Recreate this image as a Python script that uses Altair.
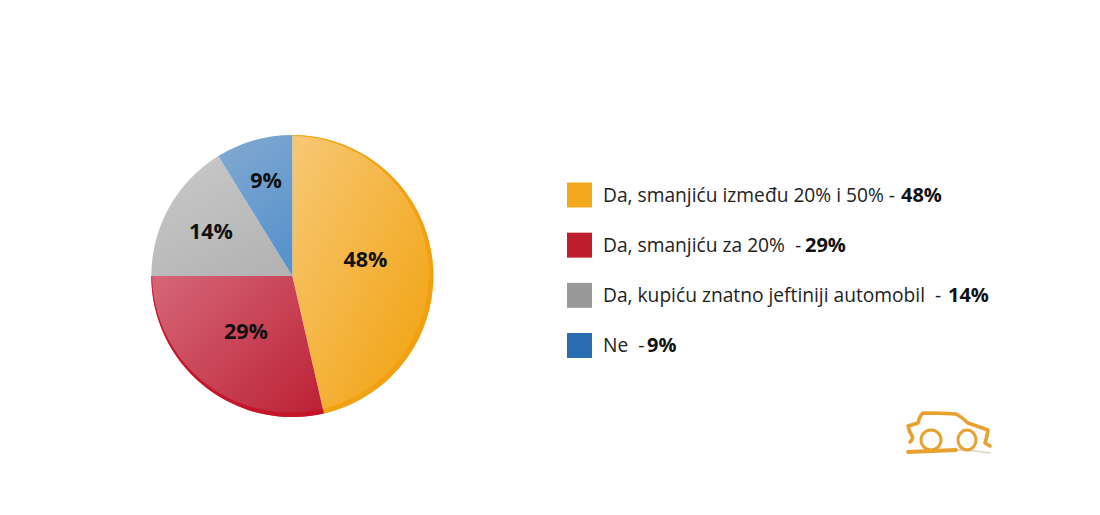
import math
import altair as alt
import pandas as pd

# Data
categories = ["Da, smanjiću između 20% i 50%", "Da, smanjiću za 20%", "Da, kupiću znatno jeftiniji automobil", "Ne"]
legend_text = ["Da, smanjiću između 20% i 50% -", "Da, smanjiću za 20%\u00a0 -", "Da, kupiću znatno jeftiniji automobil\u00a0 -", "Ne\u00a0 -"]
percent_labels = ["48%", "29%", "14%", "9%"]
drawn_shares = [46.4, 28.6, 16.2, 8.8]   # slice sizes as drawn in the picture

# Styles / layout (separate from the data)
M = 8
CX, CY, R = 292.3 - M, 276 - M, 141
legend_colors = ["#F4A81D", "#BE1E2D", "#999999", "#2A6EB1"]
grad = [("#F7C670", "#F2A516"), ("#D46475", "#BD2337"), ("#C8C8C8", "#B3B3B3"), ("#7FA7D1", "#5692CC")]
grad_dir = [(0, 0.1, 0.85, 0.9), (0, 0.1, 1, 0.9), (0.2, 0, 0.8, 1), (0.3, 0, 0.7, 1)]
rim_colors = ["#F0A010", "#C4142A"]
label_xy = [(365.5, 261), (246, 333), (211, 233), (266, 182)]
bold_x = [901, 805, 948, 647]
FONT = "Open Sans"

cum = [0]
for v in drawn_shares:
    cum.append(cum[-1] + v)
df = pd.DataFrame({"cat": categories, "start": cum[:-1], "end": cum[1:],
                   "txt": legend_text, "pct": percent_labels})

theta_scale = alt.Scale(domain=[0, 100], range=[0, 6.283185307])
y_scale = alt.Scale(domain=categories, range=[195 - M, 345.5 - M], padding=0)
yenc = alt.Y("cat:N", scale=y_scale, axis=None)

layers = []
# shaded faces
for i, c in enumerate(categories):
    x1, y1, x2, y2 = grad_dir[i]
    g = alt.LinearGradient(gradient="linear", x1=x1, y1=y1, x2=x2, y2=y2,
                           stops=[alt.GradientStop(color=grad[i][0], offset=0),
                                  alt.GradientStop(color=grad[i][1], offset=1)])
    layers.append(alt.Chart(df[df.cat == c]).mark_arc(color=g, outerRadius=R, innerRadius=0).encode(
        theta=alt.Theta("start:Q", scale=theta_scale), theta2="end:Q",
        x=alt.value(CX), y=alt.value(CY)))


# bevel crescent on the lower-right edge of the two big slices
def crescent(a0, a1):
    steps = 40
    angles = [math.radians(a0 + (a1 - a0) * k / steps) for k in range(steps + 1)]
    outer = [(R * math.sin(a), -R * math.cos(a)) for a in angles]
    inner = []
    for a in reversed(angles):
        t = 2.6 * (1 + math.cos(a - math.radians(135)))
        inner.append(((R - t) * math.sin(a), -(R - t) * math.cos(a)))
    pts = outer + inner
    return "M" + " L".join(f"{x:.2f} {y:.2f}" for x, y in pts) + " Z"


logo_df = pd.DataFrame({"k": ["logo"]})
for i in range(2):
    a0, a1 = cum[i] * 3.6, cum[i + 1] * 3.6
    layers.append(alt.Chart(logo_df).mark_point(shape=crescent(a0, a1), size=4, filled=True, fill=rim_colors[i],
                                                stroke=None, opacity=0.95).encode(
        x=alt.value(CX), y=alt.value(CY)))

# percent labels on the pie
for i, c in enumerate(categories):
    layers.append(alt.Chart(df[df.cat == c]).mark_text(font=FONT, fontWeight="bold", fontSize=21.5, color="#111111",
                                                       align="center", baseline="middle").encode(
        text="pct:N", x=alt.value(label_xy[i][0] - M), y=alt.value(label_xy[i][1] - M)))
# legend
layers.append(alt.Chart(df).mark_square(size=625, opacity=1).encode(
    x=alt.value(579.5 - M), y=yenc,
    color=alt.Color("cat:N", scale=alt.Scale(domain=categories, range=legend_colors), legend=None)))
layers.append(alt.Chart(df).mark_text(font=FONT, fontSize=19.2, color="#222222", align="left", baseline="middle", dy=0.8).encode(
    text="txt:N", x=alt.value(603 - M), y=yenc))
for i, c in enumerate(categories):
    layers.append(alt.Chart(df[df.cat == c]).mark_text(font=FONT, fontWeight="bold", fontSize=20, color="#111111",
                                                       align="left", baseline="middle", dy=0.8).encode(
        text="pct:N", x=alt.value(bold_x[i] - M), y=yenc))

# logo (decorative)
body = "M-37 9 Q-33 5 -35 3 Q-38 -2 -39 -7 L-29 -10 Q-27 -18 -24 -20 Q-8 -20 9 -19 Q15 -16 21 -10 L41 -3 Q40 4 38 10 L43 13"
wheel1 = "M-6 7 A10 10 0 1 1 -26 7 A10 10 0 1 1 -6 7 Z"
wheel2 = "M29 7 A9 10 0 1 1 11 7 A9 10 0 1 1 29 7 Z"
ground = "M-39 19 Q-15 18 9 17"
tail = "M9 17 Q25 17 43 20"
LOGO = (947 - M, 433 - M)
for path, sw, col in [(tail, 1.4, "#DDD6C8"), (body, 3.6, "#E8A02E"), (wheel1, 3, "#E8A02E"), (wheel2, 3, "#E8A02E"),
                      (ground, 3.8, "#E8A02E")]:
    layers.append(alt.Chart(logo_df).mark_point(shape=path, size=4, filled=False, stroke=col, strokeWidth=sw, opacity=1,
                                                strokeJoin="round", strokeCap="round").encode(
        x=alt.value(LOGO[0]), y=alt.value(LOGO[1])))

chart = alt.layer(*layers).resolve_scale(theta="shared", y="shared", color="independent").properties(
    width=1084, height=499, padding=0, autosize=alt.AutoSizeParams(type="none"), background="white"
).configure_view(stroke=None)

chart.save("out.html", embed_options={"renderer": "svg", "actions": False})
